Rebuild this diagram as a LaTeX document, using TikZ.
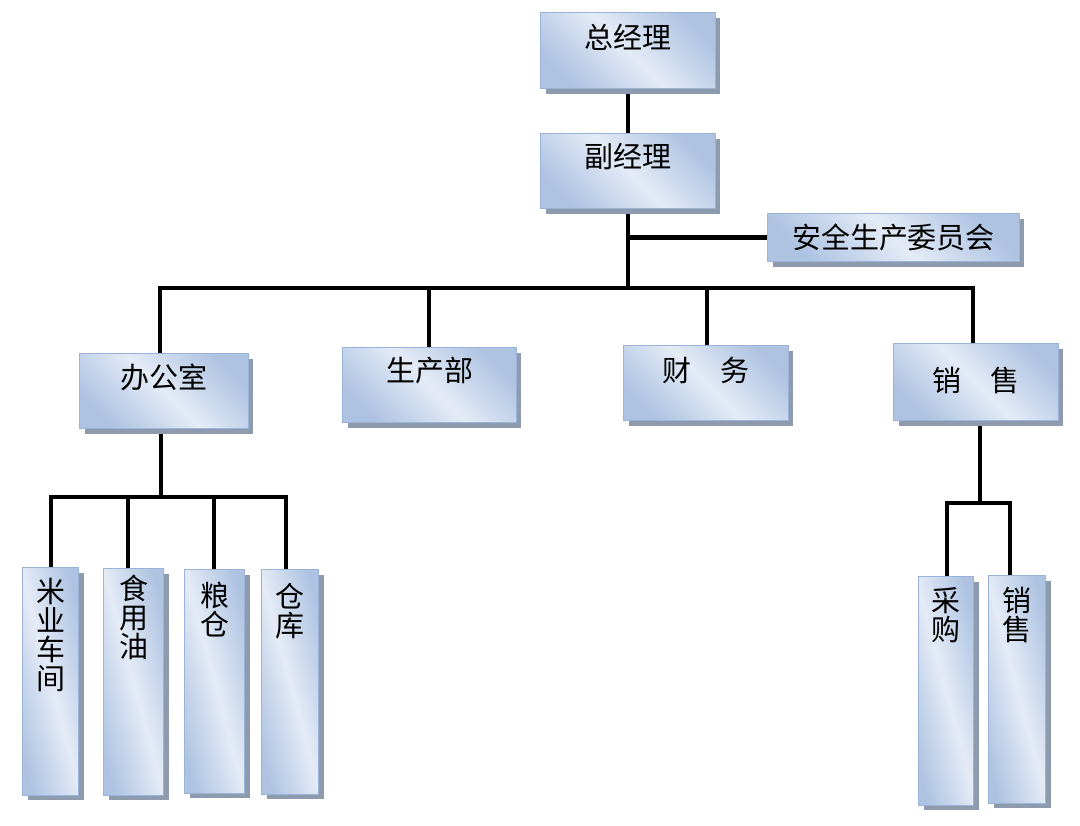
\documentclass[tikz,border=0pt]{standalone}
\usepackage{fontspec}
\newfontfamily\cjk{Noto Sans CJK SC}
\usepackage{tikz}
\usetikzlibrary{shadows,backgrounds}
\definecolor{boxedge}{HTML}{9BB3D6}
\definecolor{boxdark}{HTML}{AEC3E2}
\definecolor{boxlight}{HTML}{E4EBF6}
\definecolor{shadowgray}{HTML}{8E9BAE}
\tikzset{
    unit/.style={draw=boxedge, line width=0.6pt, inner sep=0pt, anchor=north west,
        top color=boxdark, bottom color=boxdark, middle color=boxlight, shading angle=-45,
        drop shadow={shadow xshift=0.1cm, shadow yshift=-0.1cm, fill=shadowgray, opacity=1},
        font={\cjk\fontsize{16.5}{16.5}\selectfont}},
    col/.style={unit, align=center, shading angle=-75},
    link/.style={line width=2.6pt, black}}

\begin{document}
\begin{tikzpicture}[x={(0.02cm,0)}, y={(0,-0.02cm)}]

    \useasboundingbox (0,0) rectangle (1080,826);

    \node[unit, minimum width=3.5cm, text height=0.72cm, text depth=0.80cm] (gm) at (540,12) {总经理};
    \node[unit, minimum width=3.5cm, text height=0.68cm, text depth=0.82cm] (vgm) at (540,133) {副经理};
    \node[unit, minimum width=5.04cm, text height=0.70cm, text depth=0.26cm] (safety) at (767,213) {安全生产委员会};

    \node[unit, minimum width=3.38cm, text height=0.70cm, text depth=0.80cm] (office) at (79,353) {办公室};
    \node[unit, minimum width=3.48cm, text height=0.68cm, text depth=0.82cm] (prod) at (342,347) {生产部};
    \node[unit, minimum width=3.30cm, text height=0.72cm, text depth=0.78cm] (fin) at (623,345) {财　务};
    \node[unit, minimum width=3.30cm, text height=0.96cm, text depth=0.58cm] (sales) at (893,343) {销　售};

    \node[col, text width=1.12cm, text height=0.70cm, text depth=3.86cm] (rice) at (22,567) {米\\业\\车\\间};
    \node[col, text width=1.20cm, text height=0.62cm, text depth=3.92cm] (oil) at (103,568) {食\\用\\油};
    \node[col, text width=1.20cm, text height=0.74cm, text depth=3.74cm] (grain) at (184,569) {粮\\仓};
    \node[col, text width=1.14cm, text height=0.76cm, text depth=3.74cm] (store) at (261,569) {仓\\库};
    \node[col, text width=1.10cm, text height=0.70cm, text depth=3.88cm] (buy) at (918,576) {采\\购};
    \node[col, text width=1.14cm, text height=0.72cm, text depth=3.84cm] (sell) at (988,575) {销\\售};

    \coordinate (hub) at (628,288);
    \coordinate (bl) at (160,288);
    \coordinate (bp) at (429,288);
    \coordinate (bf) at (707,288);
    \coordinate (br) at (973,288);
    \coordinate (oh) at (161,497);
    \coordinate (o1) at (51,497);
    \coordinate (o2) at (128,497);
    \coordinate (o3) at (214,497);
    \coordinate (o4) at (286,497);
    \coordinate (sh) at (980,503);
    \coordinate (s1) at (947,503);
    \coordinate (s2) at (1010,503);

    \begin{scope}[on background layer]
        \fill[white] (0,0) rectangle (1080,826);
        \draw[link] (gm) -- (vgm);
        \draw[link] (vgm.south -| hub) -- (hub);
        \draw[link] (hub |- safety.west) -- (safety.west);
        \draw[link] (bl |- office.north) -- (bl) -- (br) -- (br |- sales.north);
        \draw[link] (bp) -- (bp |- prod.north);
        \draw[link] (bf) -- (bf |- fin.north);
        \draw[link] (office.south -| oh) -- (oh);
        \draw[link] (o1 |- rice.north) -- (o1) -- (o4) -- (o4 |- store.north);
        \draw[link] (o2) -- (o2 |- oil.north);
        \draw[link] (o3) -- (o3 |- grain.north);
        \draw[link] (sales.south -| sh) -- (sh);
        \draw[link] (s1 |- buy.north) -- (s1) -- (s2) -- (s2 |- sell.north);
    \end{scope}

\end{tikzpicture}
\end{document}
